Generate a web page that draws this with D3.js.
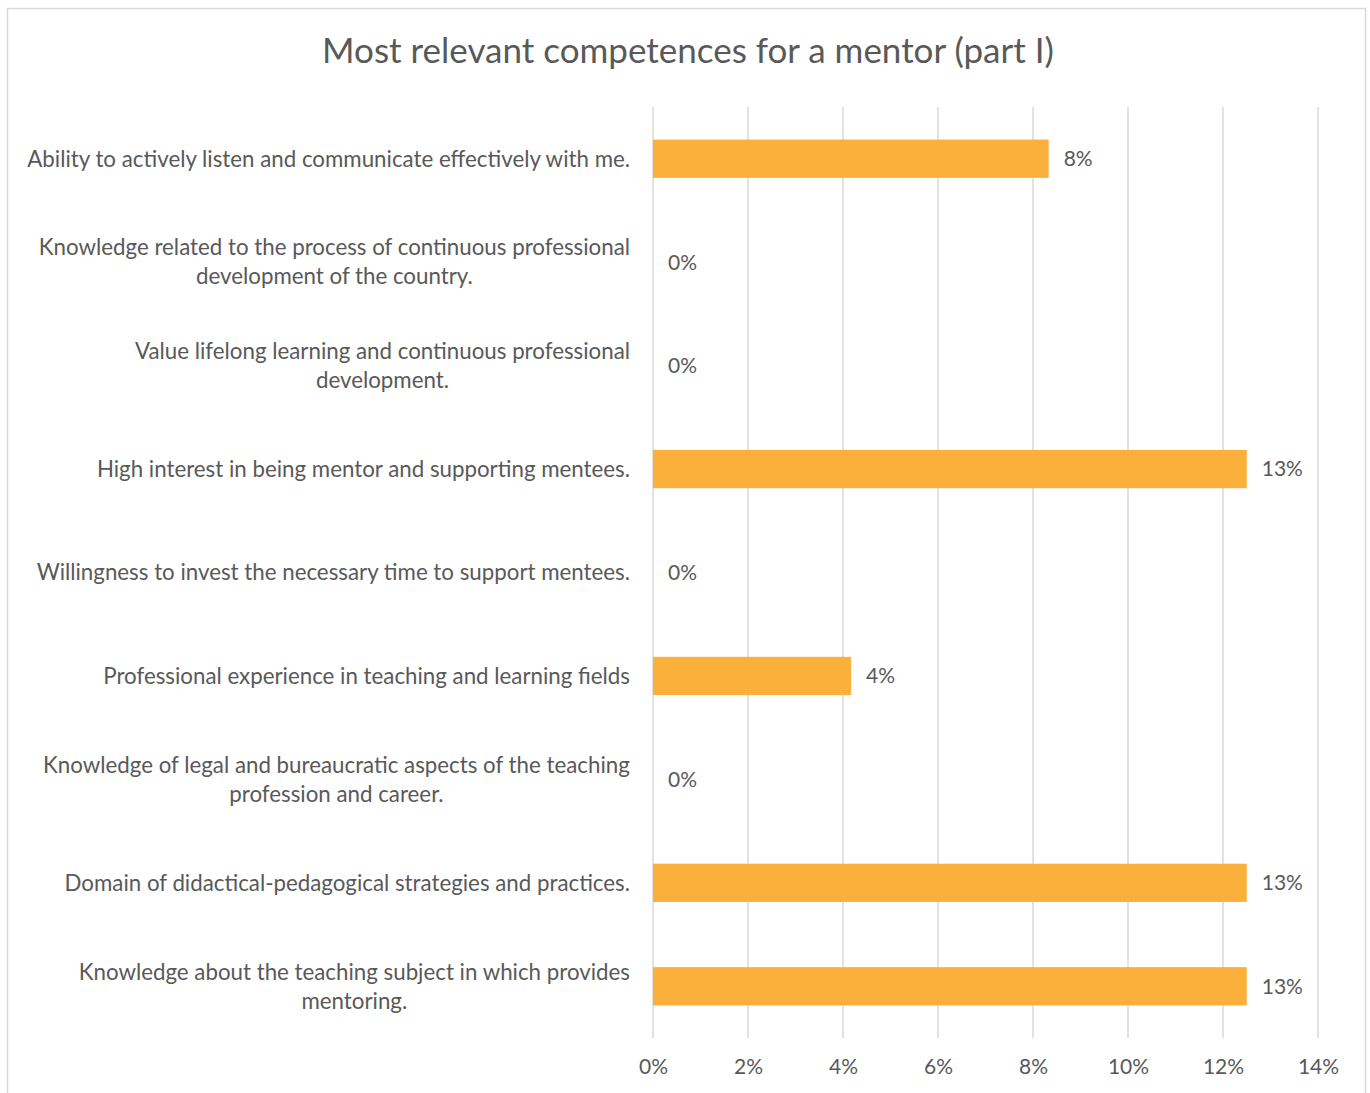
<!DOCTYPE html>
<html>
<head>
<meta charset="utf-8">
<script src="https://cdn.jsdelivr.net/npm/d3@7"></script>
<style>
  html, body { margin: 0; padding: 0; background: #fff; }
  svg { display: block; }
  text { font-family: Lato, "Open Sans", sans-serif; fill: #595959; }
</style>
</head>
<body>
<svg id="chart" width="1370" height="1093"></svg>
<script>
// Competences, top to bottom, with manual line breaks for wrapped labels
const categories = [
  ["Ability to actively listen and communicate effectively with me."],
  ["Knowledge related to the process of continuous professional", "development of the country."],
  ["Value lifelong learning and continuous professional", "development."],
  ["High interest in being mentor and supporting mentees."],
  ["Willingness to invest the necessary time to support mentees."],
  ["Professional experience in teaching and learning fields"],
  ["Knowledge of legal and bureaucratic aspects of the teaching", "profession and career."],
  ["Domain of didactical-pedagogical strategies and practices."],
  ["Knowledge about the teaching subject in which provides", "mentoring."]
];
// Share of respondents choosing each competence
const values = [0.0833, 0, 0, 0.125, 0, 0.0417, 0, 0.125, 0.125];
const xTicks = [0, 0.02, 0.04, 0.06, 0.08, 0.10, 0.12, 0.14];
const title = "Most relevant competences for a mentor (part I)";

const svg = d3.select("#chart");
const plot = { left: 653, right: 1318, top: 107, bottom: 1038 };
const labelSize = "21px";
const catSize = "22.3px";

// outer frame
svg.append("rect")
  .attr("x", 7.5).attr("y", 8.5)
  .attr("width", 1358).attr("height", 1100)
  .attr("fill", "#fff").attr("stroke", "#d9d9d9").attr("stroke-width", 1.5);

svg.append("text")
  .attr("x", 688).attr("y", 63)
  .attr("text-anchor", "middle")
  .style("font-size", "35px")
  .text(title);

const x = d3.scaleLinear().domain([0, 0.14]).range([plot.left, plot.right]);
const y = d3.scaleBand()
  .domain(d3.range(categories.length))
  .range([plot.top, plot.bottom])
  .paddingInner(0.63)
  .paddingOuter(0.315);

// vertical gridlines
svg.append("g")
  .selectAll("line")
  .data(xTicks)
  .join("line")
  .attr("x1", d => x(d)).attr("x2", d => x(d))
  .attr("y1", plot.top).attr("y2", plot.bottom)
  .attr("stroke", "#d9d9d9").attr("stroke-width", 1.5);

// bottom axis labels
const xAxis = d3.axisBottom(x)
  .tickValues(xTicks)
  .tickFormat(d3.format(".0%"))
  .tickSize(0)
  .tickPadding(21);
const gx = svg.append("g")
  .attr("transform", `translate(0,${plot.bottom})`)
  .call(xAxis);
gx.select(".domain").remove();
gx.selectAll("text")
  .style("font-size", labelSize)
  .style("font-family", "Lato, 'Open Sans', sans-serif")
  .attr("fill", "#595959");

// bars
svg.append("g")
  .selectAll("rect")
  .data(values)
  .join("rect")
  .attr("x", x(0))
  .attr("y", (d, i) => y(i))
  .attr("width", d => x(d) - x(0))
  .attr("height", y.bandwidth())
  .attr("fill", "#fbb03b");

// value labels
svg.append("g")
  .selectAll("text")
  .data(values)
  .join("text")
  .attr("x", d => x(d) + 15)
  .attr("y", (d, i) => y(i) + y.bandwidth() / 2)
  .attr("dy", "0.35em")
  .style("font-size", labelSize)
  .text(d => d3.format(".0%")(d));

// category labels: lines centered on each other, block right-aligned
const labelRight = 630;
const lineH = 29;
const cat = svg.append("g");
categories.forEach((lines, i) => {
  const cy = y(i) + y.bandwidth() / 2;
  const t = cat.append("text")
    .style("font-size", catSize)
    .attr("text-anchor", "middle");
  const n = lines.length;
  lines.forEach((ln, j) => {
    t.append("tspan")
      .attr("x", 0)
      .attr("y", cy + (j - (n - 1) / 2) * lineH)
      .attr("dy", "0.35em")
      .text(ln);
  });
  const w = t.node().getBBox().width;
  t.selectAll("tspan").attr("x", labelRight - w / 2);
});
</script>
</body>
</html>
